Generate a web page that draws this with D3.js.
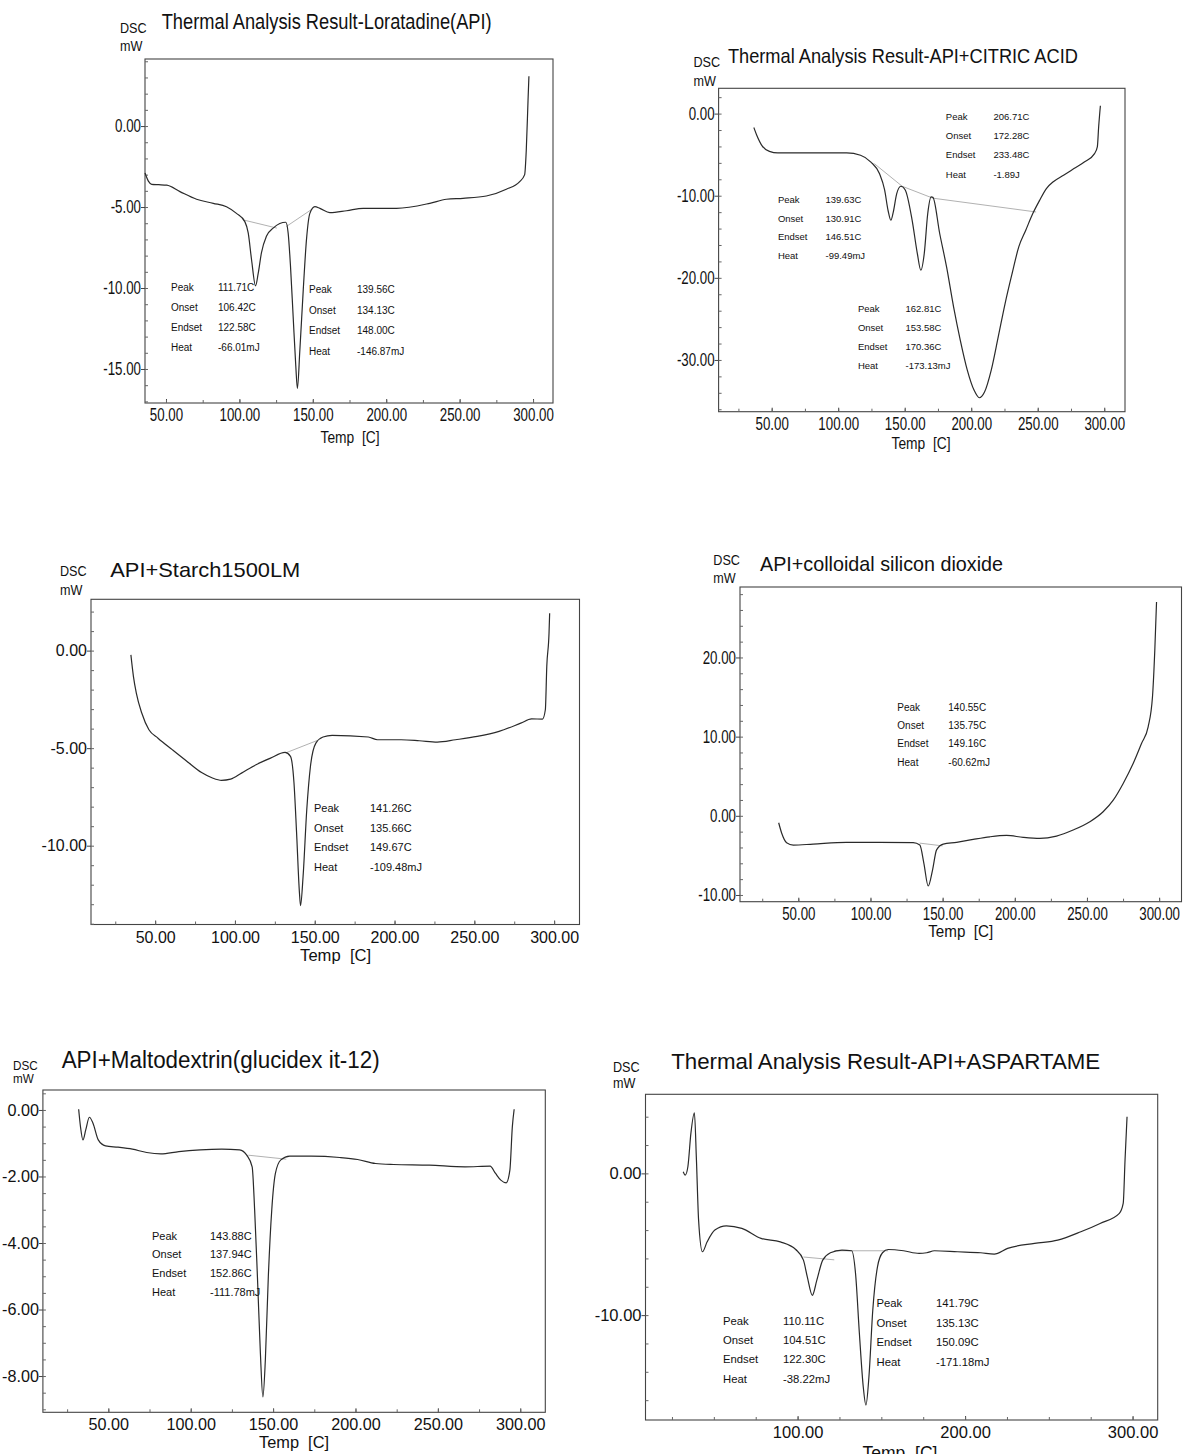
<!DOCTYPE html>
<html lang="en">
<head>
<meta charset="UTF-8">
<title>DSC thermograms</title>
<script src="https://d3js.org/d3.v7.min.js"></script>
<style>
  body { margin: 0; background: #fff; }
  text { fill: #111; }
</style>
</head>
<body>
<div id="chart"></div>
<script>
// ---- data (temperature C, heat flow mW) ----
const rowLabels = ["Peak", "Onset", "Endset", "Heat"];
const xTicks50 = [50, 100, 150, 200, 250, 300];
const xTicks100 = [100, 200, 300];

// panel 1: Loratadine (API)
const p1Title = "Thermal Analysis Result-Loratadine(API)";
const p1Temp = [35.7, 38, 40.3, 45, 50.5, 59.5, 70.8, 82.2, 91.2, 98, 103.7, 106, 108.3, 111, 112.8, 115, 118.4, 123, 127.5, 131.6, 133.2, 134.8, 136.6, 138.4, 139.5, 141.2, 143.5, 145.7, 148, 151.4, 154.8, 161.6, 173, 184.3, 207, 229.7, 241, 252.3, 268.2, 281.8, 290.9, 294.3, 295.4, 296.6, 297.2];
const p1Dsc = [-2.9, -3.4, -3.6, -3.62, -3.65, -4.05, -4.52, -4.77, -4.98, -5.39, -5.9, -6.6, -8.27, -9.87, -9.1, -7.83, -6.8, -6.3, -6.02, -5.94, -6.6, -8.65, -11.74, -14.8, -16.2, -13.8, -10.1, -7.0, -5.39, -4.98, -5.08, -5.35, -5.23, -5.08, -5.08, -4.77, -4.52, -4.46, -4.32, -3.9, -3.43, -3.0, -1.48, 1.6, 3.08];
const p1YTicks = [0, -5, -10, -15];
const p1BaseTemp = [[102.8, 125.5], [132, 150]];
const p1BaseDsc = [[-5.8, -6.3], [-6.2, -5.1]];
const p1AnnA = ["111.71C", "106.42C", "122.58C", "-66.01mJ"];
const p1AnnB = ["139.56C", "134.13C", "148.00C", "-146.87mJ"];

// panel 2: API + citric acid
const p2Title = "Thermal Analysis Result-API+CITRIC ACID";
const p2Temp = [36.6, 38.7, 43.1, 48.3, 54.7, 80.6, 106.4, 116.8, 124.6, 131, 134.9, 137.5, 139.6, 141.4, 144, 147.1, 150.4, 155.6, 159.5, 162.1, 164.7, 167.3, 169.9, 171.2, 176.3, 181.5, 186.7, 191.8, 197, 202.2, 206.1, 210, 215.1, 220.3, 225.5, 230.7, 235.8, 241, 246.2, 251.3, 256.5, 261.7, 269.4, 277.2, 285, 292.7, 294.8, 295.8, 297.1];
const p2Dsc = [-1.7, -2.6, -4.0, -4.6, -4.79, -4.79, -4.79, -5.07, -5.9, -7.3, -9.3, -11.8, -12.99, -12.0, -9.75, -8.85, -9.3, -13.0, -17.04, -19.07, -17.04, -12.2, -10.15, -10.2, -14.6, -18.7, -23.5, -27.6, -31.2, -33.7, -34.6, -33.9, -31.2, -27.2, -23.1, -19.5, -16.2, -14.2, -12.2, -10.6, -9.13, -8.3, -7.5, -6.7, -5.9, -4.87, -4.06, -1.6, 0.96];
const p2YTicks = [0, -10, -20, -30];
const p2BaseTemp = [[127.2, 148.1, 171.2, 248.8]];
const p2BaseDsc = [[-6.1, -8.85, -10.3, -11.98]];
const p2AnnA = ["206.71C", "172.28C", "233.48C", "-1.89J"];
const p2AnnB = ["139.63C", "130.91C", "146.51C", "-99.49mJ"];
const p2AnnC = ["162.81C", "153.58C", "170.36C", "-173.13mJ"];

// panel 3: API + Starch1500LM
const p3Title = "API+Starch1500LM";
const p3Temp = [34.8, 36.4, 38.2, 41.6, 46.1, 51.8, 60.9, 70, 79.1, 85.9, 91.6, 97.3, 104.1, 113.2, 122.3, 131.4, 134.8, 137, 138.6, 140.4, 141.1, 142.7, 145, 147.3, 150.7, 155.2, 160.9, 183.6, 189.3, 204.1, 215.5, 226.8, 238.2, 251.8, 265.5, 279.1, 285.9, 292.7, 294.5, 295.4, 296.8, 297.2];
const p3Dsc = [-0.22, -1.33, -2.18, -3.2, -4.06, -4.49, -5.09, -5.68, -6.25, -6.53, -6.65, -6.59, -6.28, -5.85, -5.51, -5.22, -5.42, -6.79, -9.3, -12.4, -13.07, -11.57, -8.16, -5.94, -4.74, -4.43, -4.35, -4.43, -4.57, -4.57, -4.62, -4.69, -4.57, -4.4, -4.14, -3.72, -3.5, -3.51, -3.03, -0.8, 0.89, 1.92];
const p3YTicks = [0, -5, -10];
const p3BaseTemp = [[132.5, 151.8]];
const p3BaseDsc = [[-5.22, -4.6]];
const p3Ann = ["141.26C", "135.66C", "149.67C", "-109.48mJ"];

// panel 4: API + colloidal silicon dioxide
const p4Title = "API+colloidal silicon dioxide";
const p4Temp = [36.4, 38.5, 41.9, 46.5, 60.3, 83.4, 106.5, 129.6, 134.2, 137, 140, 143, 145.8, 150.4, 159.7, 171.2, 182.7, 194.3, 205.8, 217.4, 228.9, 240.4, 252, 261.2, 268.2, 275.1, 282, 287.8, 292.4, 295.4, 297, 298.2];
const p4Dsc = [-0.88, -2.2, -3.4, -3.7, -3.57, -3.36, -3.36, -3.4, -3.7, -6.0, -8.87, -6.85, -4.3, -3.57, -3.36, -2.98, -2.65, -2.48, -2.73, -2.86, -2.56, -1.8, -0.75, 0.51, 1.98, 4.09, 6.6, 9.14, 11.24, 15.03, 20.9, 27.0];
const p4YTicks = [20, 10, 0, -10];
const p4BaseTemp = [[134, 150]];
const p4BaseDsc = [[-3.45, -3.8]];
const p4Ann = ["140.55C", "135.75C", "149.16C", "-60.62mJ"];

// panel 5: API + maltodextrin
const p5Title = "API+Maltodextrin(glucidex it-12)";
const p5Temp = [32, 33.1, 34.6, 36.3, 38.5, 40.7, 43.9, 48.3, 55.9, 64.6, 73.3, 81.9, 92.8, 105.8, 118.8, 129.7, 134, 137.3, 138.8, 140.5, 142.3, 143.8, 145.3, 147.1, 149.2, 151.4, 154.7, 160.1, 173.1, 190.5, 201.3, 212.2, 223.1, 244.8, 266.5, 281.7, 285, 288.2, 291.5, 293.7, 295.2, 296.3];
const p5Dsc = [0.02, -0.5, -0.9, -0.6, -0.22, -0.4, -0.9, -1.08, -1.12, -1.18, -1.28, -1.32, -1.25, -1.2, -1.18, -1.2, -1.36, -1.71, -3.0, -5.02, -7.32, -8.63, -7.52, -5.02, -3.0, -1.91, -1.5, -1.39, -1.39, -1.43, -1.49, -1.61, -1.64, -1.66, -1.71, -1.69, -1.91, -2.11, -2.19, -1.81, -0.5, 0.02];
const p5YTicks = [0, -2, -4, -6, -8];
const p5BaseTemp = [[135, 158]];
const p5BaseDsc = [[-1.36, -1.48]];
const p5Ann = ["143.88C", "137.94C", "152.86C", "-111.78mJ"];

// panel 6: API + aspartame
const p6Title = "Thermal Analysis Result-API+ASPARTAME";
const p6Temp = [31.7, 32.9, 34.5, 36.3, 38.4, 39.6, 40.9, 43.2, 46, 50.6, 57.5, 66.7, 78.2, 89.7, 98.9, 103.5, 105.8, 108.8, 111.5, 115, 119.6, 126.5, 132.3, 134.6, 136.9, 139.2, 140.8, 142.6, 144.9, 147.7, 150.7, 154.1, 163.3, 172.5, 177.1, 181.7, 195.5, 209.3, 217.4, 225.4, 241.5, 255.3, 269.1, 280.6, 292.1, 294.4, 295.5, 296.7];
const p6Dsc = [0.11, -0.12, 0.47, 2.82, 4.28, 0.99, -3.3, -5.53, -4.83, -4.0, -3.7, -3.88, -4.59, -4.83, -5.37, -6.12, -7.3, -8.6, -7.53, -6.12, -5.6, -5.41, -5.46, -7.06, -11.3, -15.05, -16.35, -14.35, -9.64, -6.59, -5.6, -5.37, -5.46, -5.65, -5.6, -5.46, -5.53, -5.6, -5.69, -5.29, -4.94, -4.71, -4.12, -3.53, -2.82, -2.12, 0.94, 4.0];
const p6YTicks = [0, -10];
const p6BaseTemp = [[103.5, 121.9], [121.9, 154.1]];
const p6BaseDsc = [[-5.9, -6.1], [-5.46, -5.46]];
const p6AnnA = ["110.11C", "104.51C", "122.30C", "-38.22mJ"];
const p6AnnB = ["141.79C", "135.13C", "150.09C", "-171.18mJ"];

// ---- layout ----
const FONT = '"Liberation Sans", Arial, Helvetica, sans-serif';

// tick: [font size, horizontal squeeze]; titleAt: [x, baseline, width, size]; temp: [centre x, baseline, width, size]
const panels = [
  { t: p1Temp, v: p1Dsc, box: [145, 59, 553, 403], xd: [35.7, 313.6], yd: [-17.1, 4.14],
    yTicks: p1YTicks, yMinor: 1, xTicks: xTicks50, tick: [17.5, 0.76],
    title: p1Title, titleAt: [161.7, 29, 330, 22], dsc: [120, 33, 51, 14], temp: [350, 443, 59, 16],
    bt: p1BaseTemp, bv: p1BaseDsc,
    ann: [{ vals: p1AnnA, x: 171, vx: 218, y: 287, step: 20.3, fs: 10 },
          { vals: p1AnnB, x: 309, vx: 357, y: 289.5, step: 20.6, fs: 10 }] },
  { t: p2Temp, v: p2Dsc, box: [718.6, 88.3, 1125, 411.7], xd: [10.1, 315.6], yd: [-36.3, 3.08],
    yTicks: p2YTicks, yMinor: 2, xTicks: xTicks50, tick: [17.5, 0.76],
    title: p2Title, titleAt: [727.9, 63.3, 350, 21], dsc: [693.4, 66.7, 86, 14], temp: [921, 449, 59, 16],
    bt: p2BaseTemp, bv: p2BaseDsc,
    ann: [{ vals: p2AnnA, x: 945.8, vx: 993.4, y: 116.7, step: 19.2, fs: 9.5 },
          { vals: p2AnnB, x: 777.9, vx: 825.5, y: 199.3, step: 18.9, fs: 9.5 },
          { vals: p2AnnC, x: 857.9, vx: 905.5, y: 308.3, step: 19.2, fs: 9.5 }] },
  { t: p3Temp, v: p3Dsc, box: [91, 599.3, 579.5, 924.5], xd: [9.8, 315.9], yd: [-14.04, 2.63],
    yTicks: p3YTicks, yMinor: 1, xTicks: xTicks50, tick: [16.5, 0.97],
    title: p3Title, titleAt: [110.3, 576.7, 190, 21], dsc: [60, 576, 595, 14], temp: [335.6, 961, 71, 17],
    bt: p3BaseTemp, bv: p3BaseDsc,
    ann: [{ vals: p3Ann, x: 314, vx: 370, y: 808.3, step: 19.5, fs: 11 }] },
  { t: p4Temp, v: p4Dsc, box: [740, 587, 1181.5, 901.7], xd: [9.6, 315.5], yd: [-10.85, 28.9],
    yTicks: p4YTicks, yMinor: 2, xTicks: xTicks50, tick: [17.5, 0.76],
    title: p4Title, titleAt: [760, 570.7, 243, 21], dsc: [713.3, 565, 583, 14], temp: [960.7, 936.7, 65, 17],
    bt: p4BaseTemp, bv: p4BaseDsc,
    ann: [{ vals: p4Ann, x: 897.3, vx: 948.3, y: 707.3, step: 18.3, fs: 10 }] },
  { t: p5Temp, v: p5Dsc, box: [42.9, 1090, 545.3, 1412.3], xd: [10.3, 315.2], yd: [-9.09, 0.6],
    yTicks: p5YTicks, yMinor: 0.5, xTicks: xTicks50, tick: [16.5, 0.98],
    title: p5Title, titleAt: [61.7, 1068.3, 318, 23], dsc: [13, 1070, 1083, 13], temp: [294, 1448, 70, 17],
    bt: p5BaseTemp, bv: p5BaseDsc,
    ann: [{ vals: p5Ann, x: 152, vx: 210, y: 1235.7, step: 18.7, fs: 11 }] },
  { t: p6Temp, v: p6Dsc, box: [645.5, 1094.3, 1157.7, 1420], xd: [9.2, 315], yd: [-17.4, 5.58],
    yTicks: p6YTicks, yMinor: 2, xTicks: xTicks100, tick: [16.5, 1.0],
    title: p6Title, titleAt: [671.2, 1069.3, 429, 22], dsc: [613, 1072, 1088, 14], temp: [900, 1459, 75, 18],
    bt: p6BaseTemp, bv: p6BaseDsc,
    ann: [{ vals: p6AnnA, x: 723, vx: 783, y: 1320.7, step: 19.4, fs: 11.3 },
          { vals: p6AnnB, x: 876.5, vx: 936, y: 1303.3, step: 19.5, fs: 11.3 }] }
];

const fmt = v => v.toFixed(2);   // plain hyphen minus like the instrument printout

// squeeze a text horizontally, the printout uses a condensed face
function squeeze(sel, k) {
  sel.each(function () {
    const w = this.getComputedTextLength();
    d3.select(this).attr("textLength", w * k).attr("lengthAdjust", "spacingAndGlyphs");
  });
}

const svg = d3.select("#chart").append("svg")
  .attr("width", 1183).attr("height", 1454)
  .style("background", "#fff");

panels.forEach(p => {
  const [L, T, R, B] = p.box;
  const x = d3.scaleLinear().domain(p.xd).range([L, R]);
  const y = d3.scaleLinear().domain(p.yd).range([B, T]);
  const g = svg.append("g");
  const [tfs, tk] = p.tick;

  // frame
  g.append("rect").attr("x", L).attr("y", T).attr("width", R - L).attr("height", B - T)
    .attr("fill", "none").attr("stroke", "#444").attr("stroke-width", 1.1);

  // y axis: major ticks outward with labels, minor ticks inward
  const ya = g.append("g").attr("transform", "translate(" + L + ",0)")
    .call(d3.axisLeft(y).tickValues(p.yTicks).tickFormat(fmt).tickSizeInner(4).tickSizeOuter(0).tickPadding(0));
  ya.select(".domain").remove();
  ya.selectAll("line").attr("stroke", "#444");
  ya.selectAll("text").style("font-family", FONT).style("font-size", tfs + "px").attr("fill", "#111").call(squeeze, tk);

  const yMin = d3.range(Math.ceil(p.yd[0] / p.yMinor) * p.yMinor, p.yd[1], p.yMinor);
  const ym = g.append("g").attr("transform", "translate(" + L + ",0)")
    .call(d3.axisRight(y).tickValues(yMin).tickFormat("").tickSizeInner(3).tickSizeOuter(0));
  ym.select(".domain").remove();
  ym.selectAll("line").attr("stroke", "#666");

  // x axis: ticks point into the plot, labels below
  const xa = g.append("g").attr("transform", "translate(0," + B + ")")
    .call(d3.axisBottom(x).tickValues(p.xTicks).tickFormat(fmt).tickSizeInner(-4).tickSizeOuter(0)
      .tickPadding(18 - 0.71 * tfs));
  xa.select(".domain").remove();
  xa.selectAll("line").attr("stroke", "#444");
  xa.selectAll("text").style("font-family", FONT).style("font-size", tfs + "px").attr("fill", "#111").call(squeeze, tk);

  const xMin = d3.range(25, p.xd[1], 25).filter(d => d > p.xd[0]);
  const xm = g.append("g").attr("transform", "translate(0," + B + ")")
    .call(d3.axisBottom(x).tickValues(xMin).tickFormat("").tickSizeInner(-3).tickSizeOuter(0));
  xm.select(".domain").remove();
  xm.selectAll("line").attr("stroke", "#666");

  // peak baselines (thin grey)
  const line = d3.line().x(d => x(d[0])).y(d => y(d[1]));
  p.bt.forEach((bt, i) => {
    g.append("path").datum(d3.zip(bt, p.bv[i])).attr("d", line)
      .attr("fill", "none").attr("stroke", "#a8a8a8").attr("stroke-width", 0.9);
  });

  // DSC curve
  g.append("path").datum(d3.zip(p.t, p.v))
    .attr("d", line.curve(d3.curveMonotoneX))
    .attr("fill", "none").attr("stroke", "#2a2a2a").attr("stroke-width", 1.2);

  // titles and axis names
  const [tx, ty, tw, tsz] = p.titleAt;
  g.append("text").attr("x", tx).attr("y", ty).attr("textLength", tw).attr("lengthAdjust", "spacingAndGlyphs")
    .style("font-family", FONT).style("font-size", tsz + "px").text(p.title);
  const [dx, dy1, dy2, dsz] = p.dsc;
  g.append("text").attr("x", dx).attr("y", dy1)
    .style("font-family", FONT).style("font-size", dsz + "px").text("DSC").call(squeeze, 0.9);
  g.append("text").attr("x", dx).attr("y", dy2)
    .style("font-family", FONT).style("font-size", dsz + "px").text("mW").call(squeeze, 0.9);
  const [cx, cy, cw, cfs] = p.temp;
  g.append("text").attr("x", cx - cw / 2).attr("y", cy).attr("textLength", cw).attr("lengthAdjust", "spacingAndGlyphs")
    .style("font-family", FONT).style("font-size", cfs + "px").style("white-space", "pre").text("Temp  [C]");

  // peak annotations
  p.ann.forEach(a => {
    rowLabels.forEach((lab, i) => {
      g.append("text").attr("x", a.x).attr("y", a.y + i * a.step).attr("dy", "0.35em")
        .style("font-family", FONT).style("font-size", a.fs + "px").text(lab);
      g.append("text").attr("x", a.vx).attr("y", a.y + i * a.step).attr("dy", "0.35em")
        .style("font-family", FONT).style("font-size", a.fs + "px").text(a.vals[i]);
    });
  });
});
</script>
</body>
</html>
